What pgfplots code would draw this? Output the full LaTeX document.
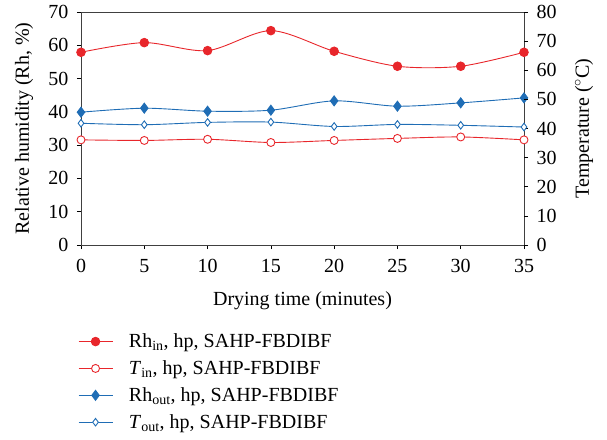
\documentclass[border=0pt]{standalone}
\usepackage{pgfplots}
\pgfplotsset{compat=1.18}
\usepackage{fontspec}
\setmainfont{Liberation Serif}
\definecolor{cred}{HTML}{E8262B}
\definecolor{cblue}{HTML}{1F6DB5}
\pgfplotsset{
  common/.style={
    scale only axis, width=443pt, height=233pt,
    xmin=0, xmax=35,
    tick align=outside, major tick length=4pt,
    tick style={black, line width=0.7pt},
    /pgf/number format/assume math mode=true,
    ticklabel style={font=\fontsize{20}{23}\selectfont},
  }
}
\begin{document}
\begin{tikzpicture}
\path[use as bounding box] (-81pt,-194pt) rectangle (526pt,245pt);
\begin{axis}[
  common,
  ymin=0, ymax=70,
  xtick={0,5,...,35}, ytick={0,10,...,70},
  xtick pos=bottom, ytick pos=left,
  axis line style={black!75, line width=0.7pt},
  xticklabel style={yshift=-7pt},
  yticklabel style={xshift=-5pt},
  xlabel={Drying time (minutes)},
  ylabel={Relative humidity (Rh, \%)},
  xlabel style={at={(rel axis cs:0.5,0)}, anchor=center, yshift=-56pt, font=\fontsize{20}{23}\selectfont},
  ylabel style={at={(rel axis cs:0,0.5)}, anchor=center, yshift=57pt, font=\fontsize{20}{23}\selectfont},
  legend style={at={(-0.007,-0.372)}, anchor=north west, draw=none, fill=none,
    font=\fontsize{20}{23}\selectfont, row sep=7.5pt, cells={anchor=west}, inner sep=0pt},
  legend cell align=left,
  legend image code/.code={\draw[mark repeat=2,mark phase=2] plot coordinates {(0pt,0pt) (17pt,0pt) (34pt,0pt)}; \path (48pt,0pt);},
]
\addplot[cred, line width=0.9pt, smooth, tension=0.5, mark=*, mark size=4.3pt, mark options={fill=cred, solid}]
 coordinates {(0,57.9) (5,60.8) (10,58.4) (15,64.4) (20,58.2) (25,53.7) (30,53.7) (35,57.9)};
\addlegendentry{Rh\textsubscript{in}, hp, SAHP-FBDIBF}
\addlegendimage{cred, line width=0.9pt, mark=*, mark size=4pt, mark options={fill=white, solid}}
\addlegendentry{\textit{T}\textsubscript{in}, hp, SAHP-FBDIBF}
\addplot[cblue, line width=0.9pt, smooth, tension=0.5, mark=diamond*, mark size=5pt, mark options={fill=cblue, solid}]
 coordinates {(0,39.9) (5,41.1) (10,40.2) (15,40.5) (20,43.3) (25,41.7) (30,42.7) (35,44.2)};
\addlegendentry{Rh\textsubscript{out}, hp, SAHP-FBDIBF}
\addlegendimage{cblue, line width=0.9pt, mark=diamond*, mark size=3.8pt, mark options={fill=white, solid}}
\addlegendentry{\textit{T}\textsubscript{out}, hp, SAHP-FBDIBF}
\end{axis}
\begin{axis}[
  common,
  ymin=0, ymax=80,
  ytick={0,10,...,80},
  xtick=\empty, ytick pos=right, yticklabel pos=right,
  yticklabel style={xshift=5pt},
  axis line style={draw=none},
  ylabel={Temperature ($^{\circ}$C)},
  ylabel style={at={(rel axis cs:1,0.5)}, anchor=center, yshift=-60pt, font=\fontsize{20}{23}\selectfont},
]
\addplot[cred, line width=0.9pt, smooth, tension=0.5, mark=*, mark size=4pt, mark options={fill=white, solid}]
 coordinates {(0,36.1) (5,35.9) (10,36.3) (15,35.2) (20,35.9) (25,36.6) (30,37.1) (35,36.1)};
\addplot[cblue, line width=0.9pt, smooth, tension=0.5, mark=diamond*, mark size=3.8pt, mark options={fill=white, solid}]
 coordinates {(0,41.8) (5,41.3) (10,42.1) (15,42.2) (20,40.7) (25,41.4) (30,41.1) (35,40.5)};
\end{axis}
\end{tikzpicture}
\end{document}
